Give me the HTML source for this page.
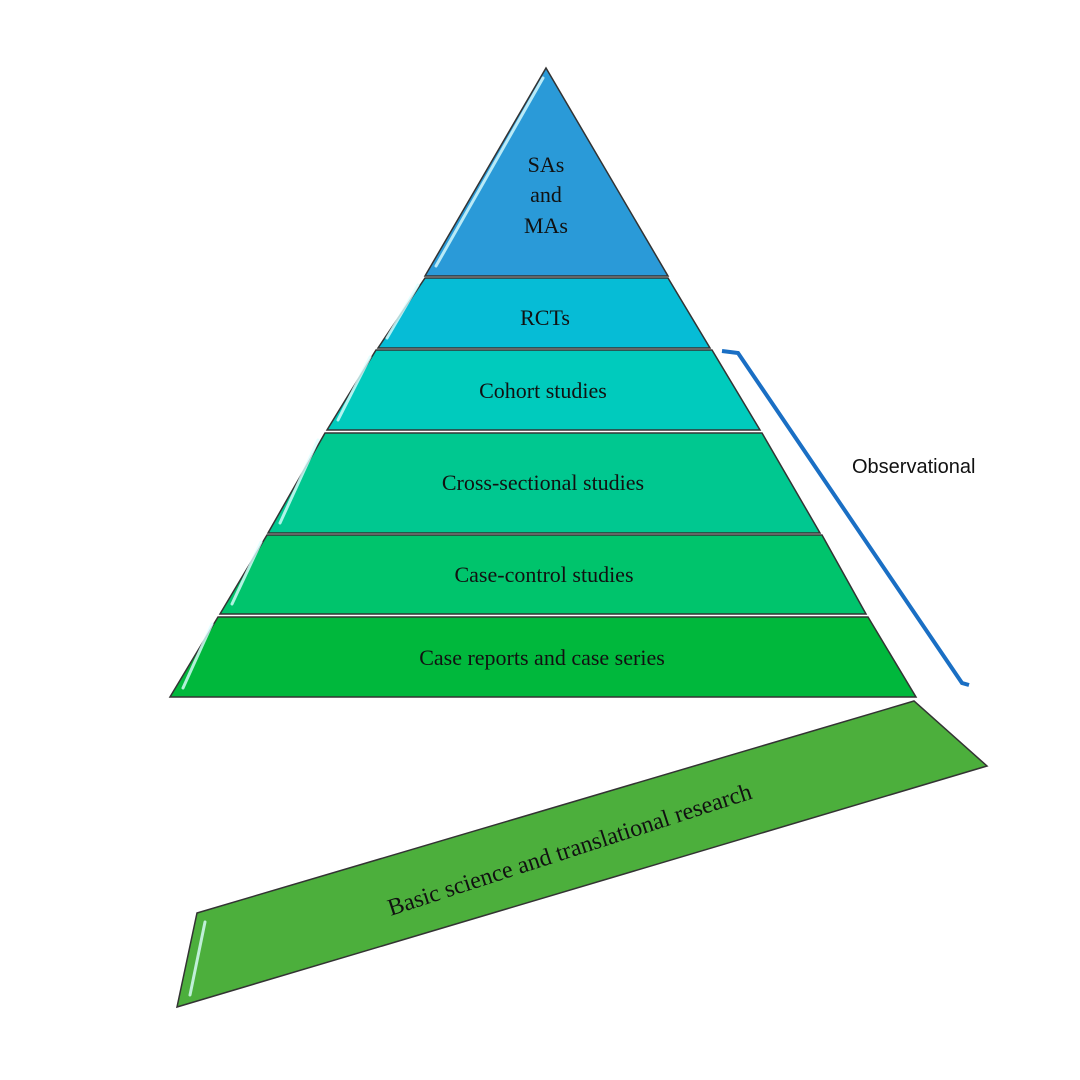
<!DOCTYPE html>
<html><head><meta charset="utf-8"><style>body{margin:0;background:#fff}svg{display:block}</style></head><body>
<svg width="1080" height="1080" viewBox="0 0 1080 1080" xmlns="http://www.w3.org/2000/svg" font-family="Liberation Serif, serif" font-size="22">
<g stroke="#333" stroke-width="1.5">
<polygon points="546,68 668,276 425,276" fill="#2a9ad8"/>
<polygon points="425,278 668,278 710,348 378,348" fill="#06bcd6"/>
<polygon points="376,350 712,350 760,430 327,430" fill="#00cbbd"/>
<polygon points="325,433 762,433 820,533 268,533" fill="#00c890"/>
<polygon points="267,535 822,535 866,614 220,614" fill="#00c46c"/>
<polygon points="218,617 868,617 916,697 170,697" fill="#00b83c"/>
<polygon points="197,913 914,701 987,766 177,1007" fill="#4caf3c"/>
</g>
<g stroke="#dff" stroke-width="3" opacity="0.8" stroke-linecap="round">
<line x1="543" y1="78" x2="436" y2="266"/>
<line x1="418" y1="285" x2="387" y2="338"/>
<line x1="370" y1="357" x2="338" y2="420"/>
<line x1="318" y1="440" x2="280" y2="523"/>
<line x1="261" y1="542" x2="232" y2="604"/>
<line x1="212" y1="624" x2="183" y2="688"/>
<line x1="205" y1="922" x2="190" y2="995"/>
</g>
<polyline points="722,351 738,353 962,683 969,685" fill="none" stroke="#1a6fc4" stroke-width="4"/>
<g fill="#111" text-anchor="middle">
<text x="546" y="172">SAs</text><text x="546" y="202">and</text><text x="546" y="233">MAs</text>
<text x="545" y="325">RCTs</text>
<text x="543" y="398">Cohort studies</text>
<text x="543" y="490">Cross-sectional studies</text>
<text x="544" y="582">Case-control studies</text>
<text x="542" y="665">Case reports and case series</text>
<text x="572" y="857" font-size="24" transform="rotate(-18 572 857)">Basic science and translational research</text>
</g>
<text x="852" y="473" font-family="Liberation Sans, sans-serif" font-size="20" fill="#111">Observational</text>
</svg>
</body></html>
